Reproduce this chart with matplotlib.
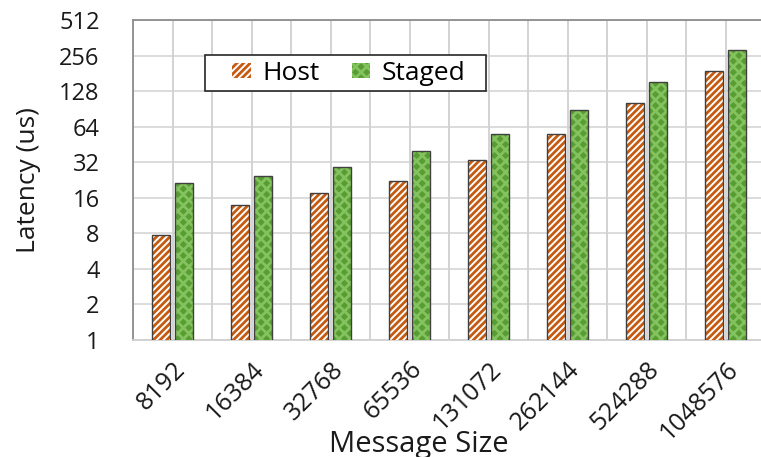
import numpy as np
import matplotlib.pyplot as plt
from matplotlib.patches import Patch, Rectangle

sizes = ["8192", "16384", "32768", "65536", "131072", "262144", "524288", "1048576"]
host = [7.7, 13.8, 17.4, 22.3, 33.2, 55.3, 101, 190]
staged = [21.5, 24.6, 29.1, 39.8, 55.4, 88.5, 154, 285]
yticks = [1, 2, 4, 8, 16, 32, 64, 128, 256, 512]

plt.rcParams["font.family"] = ["Open Sans", "DejaVu Sans"]
plt.rcParams["hatch.linewidth"] = 2.0

HOST_HATCH = "#c55a11"
STAGED_FACE = "#579d31"
STAGED_HATCH = "#84c25f"

fig = plt.figure(figsize=(7.61, 4.57), dpi=100)
ax = fig.add_axes([133 / 761, 117 / 457, 632 / 761, 320 / 457])

x = np.arange(len(sizes))
w = 0.23
off = 0.145

# host: white with orange stripes, then a dark outline on top
ax.bar(x - off, host, w, color="white", edgecolor=HOST_HATCH, hatch="/////", linewidth=0, zorder=3)
ax.bar(x - off, host, w, fill=False, edgecolor="#404040", linewidth=1.0, zorder=4)
# staged: green with fine texture
ax.bar(x + off, staged, w, color=STAGED_FACE, edgecolor=STAGED_HATCH, hatch="xxx", linewidth=0, zorder=3)
ax.bar(x + off, staged, w, fill=False, edgecolor="#404040", linewidth=1.0, zorder=4)

ax.set_yscale("log", base=2)
ax.set_ylim(1, 512)
ax.set_yticks(yticks)
ax.set_yticklabels([str(t) for t in yticks])
ax.minorticks_off()
ax.set_xlim(-0.5, len(sizes) - 0.5)

# grid at category borders and centres
for b in np.arange(-0.5, len(sizes), 0.5):
    ax.axvline(b, color="#d0d0d0", linewidth=1.3, zorder=1)
ax.yaxis.grid(True, color="#d9d9d9", linewidth=1.3, zorder=1)
ax.set_axisbelow(True)

ax.set_xticks(x)
ax.set_xticklabels(sizes, rotation=45, ha="right", va="top", rotation_mode="anchor")
ax.tick_params(axis="x", length=0, pad=12, labelsize=18, labelcolor="#1a1a1a")
ax.tick_params(axis="y", length=0, pad=24, labelsize=17, labelcolor="#1a1a1a")

ax.spines["right"].set_visible(False)
ax.spines["left"].set_color("#8c8c8c")
ax.spines["top"].set_color("#8c8c8c")
ax.spines["bottom"].set_color("#d0d0d0")
for s in ["left", "top", "bottom"]:
    ax.spines[s].set_linewidth(1.3)

ax.set_ylabel("Latency (us)", fontsize=19, color="#1a1a1a")
ax.yaxis.set_label_coords(-0.145, 0.5)
ax.set_xlabel("Message Size", fontsize=21, color="#1a1a1a", va="top")
ax.xaxis.set_label_coords(0.452, -0.28)

# legend box drawn separately so the inner side padding can be wide
fig.patches.append(Rectangle((205 / 761, 1 - 91 / 457), 281 / 761, 36 / 457,
                             transform=fig.transFigure, facecolor="white",
                             edgecolor="#262626", linewidth=1.2, zorder=5))
handles = [
    Patch(facecolor="white", edgecolor=HOST_HATCH, hatch="/////", linewidth=0),
    Patch(facecolor=STAGED_FACE, edgecolor=STAGED_HATCH, hatch="xxx", linewidth=0),
]
leg = fig.legend(handles, ["Host", "Staged"], ncol=2, loc="center",
                 bbox_to_anchor=(349 / 761, 1 - 73 / 457), fontsize=19,
                 frameon=False, handlelength=0.7, handleheight=0.5,
                 columnspacing=1.2, borderpad=0.2, handletextpad=0.45)
leg.set_zorder(6)

fig.savefig("out.png", dpi=100)
